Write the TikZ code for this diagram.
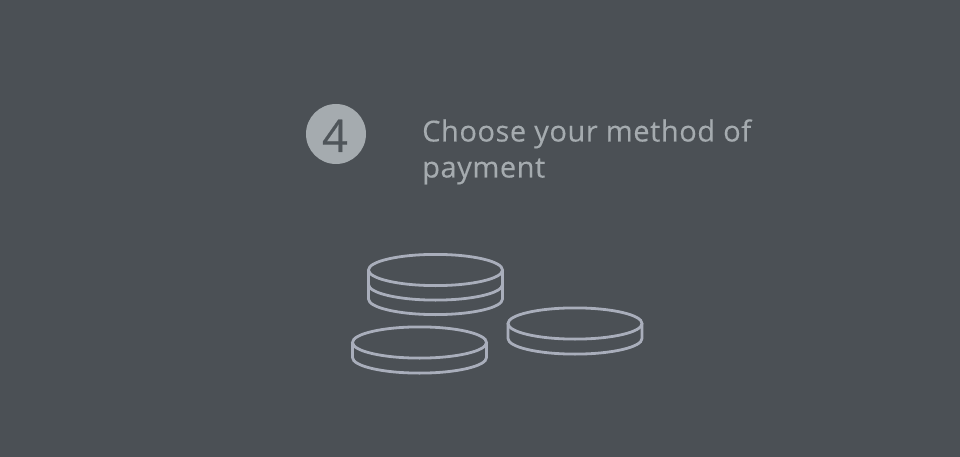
\documentclass[tikz,border=0pt]{standalone}
\usepackage{fontspec}
\setmainfont{Open Sans}
\newfontfamily\stepfont[LetterSpace=1.9,FakeBold=0.25]{Open Sans}
\newfontfamily\numfont[FakeBold=0.4]{Open Sans}
\definecolor{bgc}{HTML}{4B5055}
\definecolor{coinc}{HTML}{A9AEBB}
\definecolor{txtc}{HTML}{A5ABAF}
\definecolor{numc}{HTML}{4F555A}
\tikzset{x=1pt,y=-1pt,
  coinline/.style={draw=coinc,line width=2.8pt},
  badge/.style={circle,fill=txtc,minimum size=60pt,inner sep=0pt},
  numtext/.style={anchor=base,inner sep=0pt,text=numc,font=\numfont\fontsize{45}{45}\selectfont},
  steptext/.style={anchor=base west,inner sep=0pt,text=txtc,font=\stepfont\fontsize{29}{36}\selectfont}}
\newcommand{\coin}[3]{%
  \draw[coinline] (#1,#2) ellipse [x radius=67,y radius=15.6];
  \foreach \d in {#3}{
    \draw[coinline] (#1-67,#2) -- (#1-67,#2+\d)
      arc[start angle=180,delta angle=-180,x radius=67,y radius=15.6] -- (#1+67,#2);
  }
}
\begin{document}
\begin{tikzpicture}
\useasboundingbox[fill=bgc] (0,0) rectangle (960,457);
\coin{435.5}{270}{14.5,29}
\coin{575}{323.5}{15}
\coin{419.5}{342.5}{15}
\node[badge] (badge) at (336,134) {};
\node[numtext] (num) at (335,152) {4};
\node[steptext] (l1) at (422,141.5) {Choose your method of};
\node[steptext] (l2) at (422,177.5) {payment};
\end{tikzpicture}
\end{document}
